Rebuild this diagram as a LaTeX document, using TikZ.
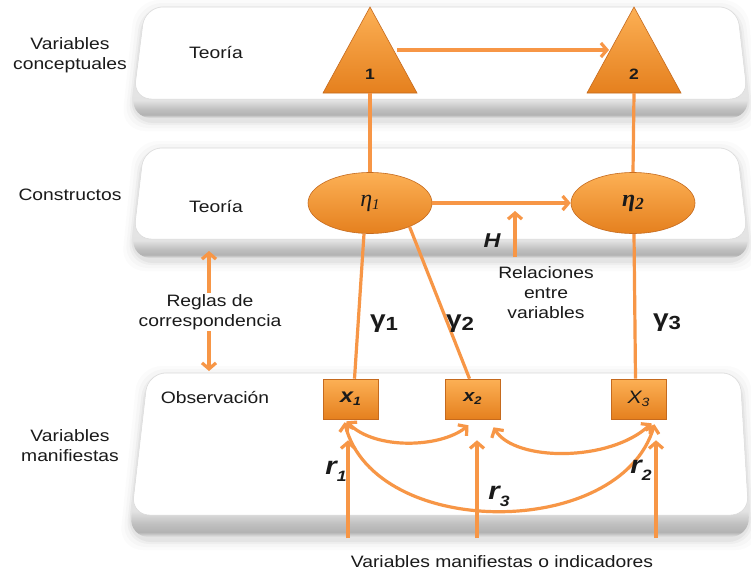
\documentclass[tikz,border=0pt]{standalone}
\usepackage{fontspec}
\setmainfont{Liberation Sans}[FakeStretch=1.17]
\newfontfamily\etafont{Liberation Serif}
\usetikzlibrary{shapes.geometric,arrows.meta,calc}
\definecolor{ln}{HTML}{F79646}
\definecolor{ortop}{HTML}{FCB055}
\definecolor{orbot}{HTML}{E5801E}
\definecolor{orbd}{HTML}{C56A1E}
\definecolor{txt}{HTML}{1A1A1A}
\pgfdeclareverticalshading{band}{100bp}{color(0bp)=(gray!20); color(25bp)=(gray!20); color(26.5bp)=(gray!60); color(29bp)=(gray!50); color(33bp)=(gray!22); color(75bp)=(gray!12); color(100bp)=(gray!12)}
\newcommand{\drawslab}[7]{%
  \foreach \g/\op in {10/0.015,7/0.02,4/0.03,2/0.04}{%
    \fill[black,opacity=\op,rounded corners=24] (#1-\g,#3-\g+3) -- (#2+\g,#3-\g+3) -- (#5+\g,#6+\g+3) -- (#4-\g,#6+\g+3) -- cycle;}
  \shade[shading=band,rounded corners=20] (#1,#3) -- (#2,#3) -- (#5,#6) -- (#4,#6) -- cycle;
  \pgfmathsetmacro\slabfr{1-#7/(#6-#3)}
  \fill[white,rounded corners=18] (#1,#3) -- (#2,#3) -- ($(#2,#3)!\slabfr!(#5,#6)$) -- ($(#1,#3)!\slabfr!(#4,#6)$) -- cycle;
  \draw[gray!30,line width=0.5pt,rounded corners=18] (#1,#3) -- (#2,#3) -- ($(#2,#3)!\slabfr!(#5,#6)$) -- ($(#1,#3)!\slabfr!(#4,#6)$) -- cycle;
}
\begin{document}
\begin{tikzpicture}[x=1pt,y=-1pt,
  conn/.style={draw=ln, line width=3.2pt},
  arr/.style={conn, -{Straight Barb[length=6pt,width=14pt]}},
  darr/.style={conn, {Straight Barb[length=6pt,width=14pt]}-{Straight Barb[length=6pt,width=14pt]}},
  orfill/.style={top color=ortop, bottom color=orbot, draw=orbd, line width=0.6pt},
  ell/.style={ellipse, orfill, minimum width=124pt, minimum height=61pt, inner sep=0, text=txt},
  sq/.style={rectangle, orfill, minimum width=55pt, minimum height=40pt, inner sep=0, text=txt},
  lbl/.style={font=\fontsize{16.5}{20}\selectfont, text=txt, align=center, inner sep=0},
  num/.style={font=\bfseries\fontsize{15}{15}\selectfont, text=txt, inner sep=0},
  gam/.style={font=\bfseries\fontsize{24}{24}\selectfont, text=txt, inner sep=0},
  rl/.style={font=\bfseries\itshape\fontsize{25}{25}\selectfont, text=txt, inner sep=0},
]
\fill[white] (0,0) rectangle (751,573);
\useasboundingbox (0,0) rectangle (751,573);
% slabs
\drawslab{145}{737}{7}{131}{750}{118}{19}
\drawslab{144}{737}{148}{131}{750}{258}{19}
\drawslab{148}{740}{373}{129}{750}{537}{22}
% triangles
\path[orfill] (370,7) -- (417,93) -- (323,93) -- cycle;
\path[orfill] (634,7) -- (681,93) -- (587,93) -- cycle;
\node[num] (n1) at (370,74) {1};
\node[num] (n2) at (634,74) {2};
\coordinate (t1b) at (370,93);
\coordinate (t2b) at (634,93);
\coordinate (t1r) at (397,50);
\coordinate (t2l) at (609,50);
% ellipses and boxes
\node[ell] (e1) at (370,203) {\etafont\itshape\fontsize{24}{24}\selectfont η\raisebox{-3pt}{\fontsize{15}{15}\selectfont 1}};
\node[ell] (e2) at (633,203) {\etafont\bfseries\itshape\fontsize{24}{24}\selectfont η\raisebox{-3pt}{\fontsize{17}{17}\selectfont 2}};
\node[sq] (x1) at (350.5,399) {\bfseries\itshape\fontsize{20}{20}\selectfont x\raisebox{-3pt}{\fontsize{12}{12}\selectfont 1}};
\node[sq] (x2) at (472.5,399) {\bfseries\itshape\fontsize{17}{17}\selectfont x\raisebox{-3pt}{\fontsize{11}{11}\selectfont 2}};
\node[sq] (x3) at (638.5,399) {\itshape\fontsize{18}{18}\selectfont X\raisebox{-3pt}{\fontsize{12}{12}\selectfont 3}};
% connectors
\draw[conn] (t1b) -- (e1.north);
\draw[conn] (t2b) -- (e2.north);
\draw[arr] (t1r) -- (t2l);
\draw[arr] (e1.east) -- (e2.west);
\coordinate (hb) at (515,257);
\coordinate (ht) at (515,211);
\draw[arr] (hb) -- (ht);
\coordinate (rga) at (209,251);
\coordinate (rgb) at (209,371);
\draw[darr] (rga) -- (rgb);
\draw[conn] ([xshift=-6pt]e1.south) -- ([xshift=4pt]x1.north);
\draw[conn] (e1.-31) -- ([xshift=-3pt]x2.north);
\draw[conn] ([xshift=1pt]e2.south) -- ([xshift=-3pt]x3.north);
% correlations
\draw[darr] ([xshift=-4pt,yshift=-2pt]x1.south) .. controls (375,450) and (440,448) .. ([xshift=-4pt,yshift=-6pt]x2.south);
\draw[darr] ([xshift=21pt,yshift=-8pt]x2.south) .. controls (515,462) and (610,462) .. ([xshift=13pt,yshift=-4pt]x3.south);
\draw[darr] ([xshift=-6pt,yshift=-3pt]x1.south) .. controls (375,540) and (620,540) .. ([xshift=16pt,yshift=-5pt]x3.south);
% indicator arrows
\coordinate (v1) at (348,538);
\coordinate (v2) at (477,538);
\coordinate (v3) at (656,538);
\draw[arr] (v1) -- ([xshift=-2.5pt,yshift=-21pt]x1.south);
\draw[arr] (v2) -- ([xshift=4.5pt,yshift=-21pt]x2.south);
\draw[arr] (v3) -- ([xshift=17.5pt,yshift=-21pt]x3.south);
% labels
\node[lbl] (vc) at (70,55) {Variables\\conceptuales};
\node[lbl] (teo1) at (216,53) {Teoría};
\node[lbl] (con) at (70,195) {Constructos};
\node[lbl] (teo2) at (216,207) {Teoría};
\node[lbl,fill=white,inner sep=1pt] (rg) at (210,312) {Reglas de\\correspondencia};
\node[lbl] (obs) at (215,397) {Observación};
\node[lbl] (vm) at (70,446) {Variables\\manifiestas};
\node[lbl] (rel) at (546,293) {Relaciones\\entre\\variables};
\node[lbl] (vmi) at (502,562) {Variables manifiestas o indicadores};
\node[font=\bfseries\itshape\fontsize{20}{20}\selectfont, text=txt, inner sep=0] (h) at (492,241) {H};
\node[gam] (g1) at (384,324) {γ\raisebox{-3pt}{\fontsize{19}{19}\selectfont 1}};
\node[gam] (g2) at (460,324) {γ\raisebox{-3pt}{\fontsize{19}{19}\selectfont 2}};
\node[gam] (g3) at (667,323) {γ\raisebox{-3pt}{\fontsize{19}{19}\selectfont 3}};
\node[rl] (r1) at (336,471) {r\raisebox{-7pt}{\fontsize{15}{15}\selectfont 1}};
\node[rl] (r2) at (641,470) {r\raisebox{-7pt}{\fontsize{15}{15}\selectfont 2}};
\node[rl] (r3) at (499,496) {r\raisebox{-7pt}{\fontsize{15}{15}\selectfont 3}};
\end{tikzpicture}
\end{document}
